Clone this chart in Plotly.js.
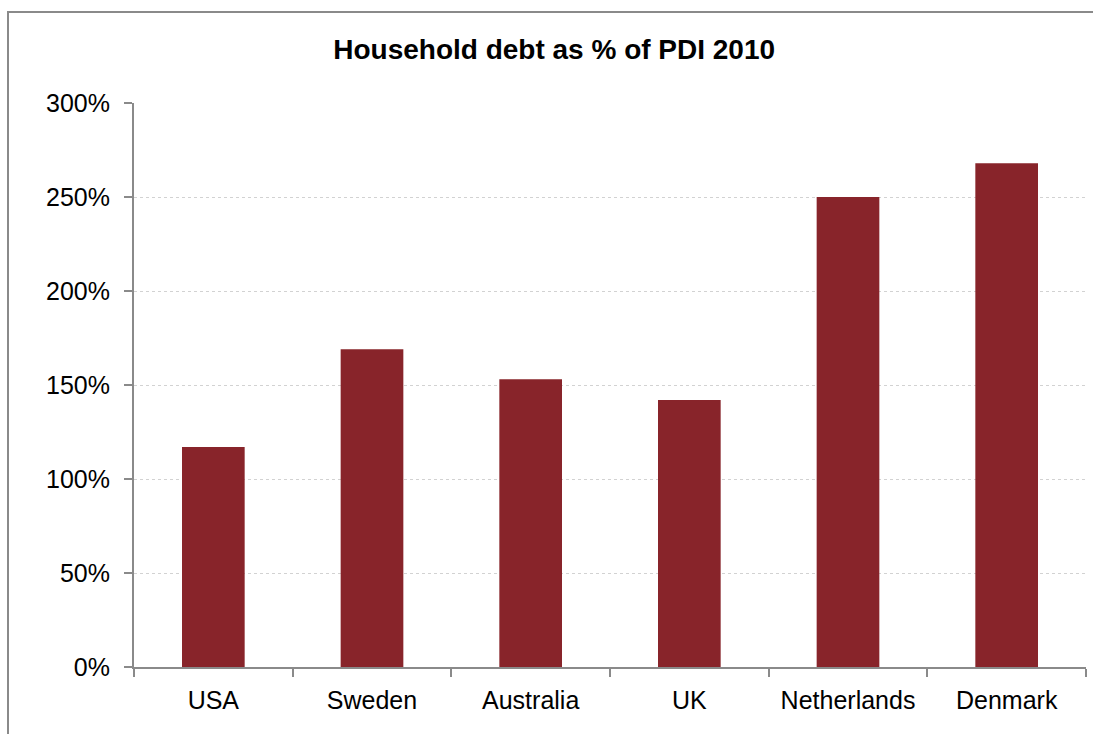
<!DOCTYPE html>
<html>
<head>
<meta charset="utf-8">
<script src="https://cdn.plot.ly/plotly-3.0.1.min.js"></script>
<style>
  html, body { margin: 0; padding: 0; background: #fff; overflow: hidden; width: 1093px; height: 734px; }
  #chart { width: 1093px; height: 734px; position: absolute; left: 0; top: 0; }
  #frame { position: absolute; left: 7px; top: 11px; width: 1086px; height: 723px; box-sizing: border-box;
           border-left: 2px solid #8a8a8a; border-top: 2px solid #8a8a8a; pointer-events: none; }
</style>
</head>
<body>
<div id="chart"></div>
<div id="frame"></div>
<script>
const categories = ["USA", "Sweden", "Australia", "UK", "Netherlands", "Denmark"];
const debtPct = [117, 169, 153, 142, 250, 268];
const yTicks = [0, 50, 100, 150, 200, 250, 300];
const yTickLabels = ["0%", "50%", "100%", "150%", "200%", "250%", "300%"];

const font = "Liberation Sans, Arial, sans-serif";

Plotly.newPlot("chart", [{
  type: "bar",
  x: categories,
  y: debtPct,
  marker: { color: "#88242a", line: { width: 0 } },
  hoverinfo: "x+y"
}], {
  width: 1093,
  height: 734,
  margin: { l: 134, r: 7, t: 103, b: 67 },
  paper_bgcolor: "rgba(0,0,0,0)",
  plot_bgcolor: "rgba(0,0,0,0)",
  bargap: 0.605,
  showlegend: false,
  title: {
    text: "<b>Household debt as % of PDI 2010</b>",
    font: { family: font, size: 28, color: "#000" },
    x: 0.507, xanchor: "center",
    y: 0.933, yanchor: "middle"
  },
  xaxis: {
    type: "category",
    tickson: "boundaries",
    ticks: "outside",
    ticklen: 8,
    tickwidth: 2,
    tickcolor: "#8a8a8a",
    showline: true,
    linecolor: "#8a8a8a",
    linewidth: 2,
    showgrid: false,
    tickfont: { family: font, size: 25, color: "#000" },
    ticklabelstandoff: 10
  },
  yaxis: {
    range: [0, 300],
    tickvals: yTicks,
    ticktext: yTickLabels,
    ticks: "outside",
    ticklen: 8,
    tickwidth: 2,
    tickcolor: "#8a8a8a",
    showline: true,
    linecolor: "#8a8a8a",
    linewidth: 2,
    showgrid: true,
    gridcolor: "#d2d2d2",
    gridwidth: 1,
    griddash: "dot",
    zeroline: false,
    tickfont: { family: font, size: 25, color: "#000" },
    ticklabelstandoff: 9
  }
}, { displayModeBar: false, staticPlot: true });
</script>
</body>
</html>
